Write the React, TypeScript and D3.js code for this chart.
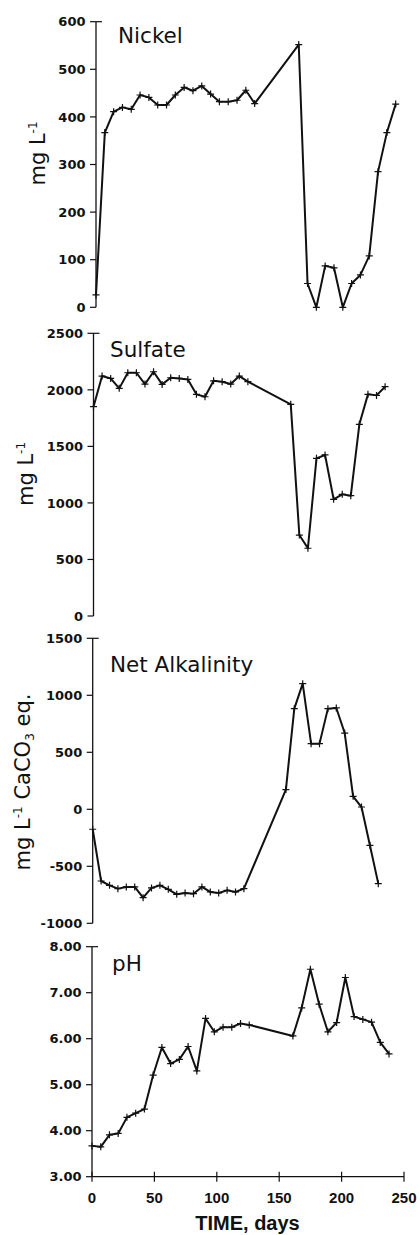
import * as d3 from "d3";

// sampling days (weekly, with a gap between day 126 and 161)
const DAYS = [0, 7, 14, 21, 28, 35, 42, 49, 56, 63, 70, 77, 84, 91, 98, 105, 112, 119, 126,
  161, 168, 175, 182, 189, 196, 203, 210, 217, 224, 231, 238];

const NICKEL = [26, 367, 411, 420, 416, 446, 441, 425, 425, 446, 462, 455, 465, 448, 432, 432, 435, 456, 428,
  552, 50, 0, 87, 83, 0, 50, 68, 108, 285, 367, 427];

const SULFATE = [1851, 2122, 2101, 2013, 2151, 2151, 2051, 2160, 2048, 2107, 2101, 2092, 1960, 1939, 2080, 2072, 2051, 2122, 2072,
  1872, 716, 599, 1394, 1424, 1032, 1076, 1064, 1695, 1960, 1951, 2028];

const ALKALINITY = [-175, -629, -667, -696, -681, -681, -775, -690, -667, -702, -746, -734, -740, -681, -725, -734, -711, -725, -696,
  173, 883, 1102, 576, 576, 883, 889, 669, 114, 20, -316, -652];

const PH = [3.67, 3.65, 3.91, 3.94, 4.29, 4.38, 4.47, 5.21, 5.81, 5.46, 5.55, 5.83, 5.3, 6.44, 6.15, 6.25, 6.25, 6.33, 6.3,
  6.06, 6.67, 7.51, 6.75, 6.15, 6.35, 7.33, 6.48, 6.42, 6.36, 5.92, 5.67];

const NICKEL_TICKS = [0, 100, 200, 300, 400, 500, 600];
const SULFATE_TICKS = [0, 500, 1000, 1500, 2000, 2500];
const ALK_TICKS = [-1000, -500, 0, 500, 1000, 1500];
const PH_TICKS = [3, 4, 5, 6, 7, 8];
const X_TICKS = [0, 50, 100, 150, 200, 250];

const YFONT = "'DejaVu Sans', sans-serif";
const intFmt = (v: number) => String(v); // plain hyphen minus, like the original
const phFmt = (v: number) => v.toFixed(2);

const panels = [
  {
    title: "Nickel", values: NICKEL, ticks: NICKEL_TICKS, fmt: intFmt,
    axisX: 96, xEnd: 410.8, yTop: 21.7, yBottom: 307.3,
    titleX: 118, titleY: 43,
  },
  {
    title: "Sulfate", values: SULFATE, ticks: SULFATE_TICKS, fmt: intFmt,
    axisX: 93.5, xEnd: 399.8, yTop: 333.3, yBottom: 616,
    titleX: 110, titleY: 357,
  },
  {
    title: "Net Alkalinity", values: ALKALINITY, ticks: ALK_TICKS, fmt: intFmt,
    axisX: 92.7, xEnd: 392.7, yTop: 638.3, yBottom: 923.3,
    titleX: 110, titleY: 672,
  },
  {
    title: "pH", values: PH, ticks: PH_TICKS, fmt: phFmt,
    axisX: 92, xEnd: 404, yTop: 946.7, yBottom: 1176.7,
    titleX: 112, titleY: 971,
  },
];

function Panel({ p, last }: { p: any; last: boolean }) {
  const x = d3.scaleLinear().domain([0, 250]).range([p.axisX, p.xEnd]);
  const y = d3.scaleLinear()
    .domain([p.ticks[0], p.ticks[p.ticks.length - 1]])
    .range([p.yBottom, p.yTop]);
  const pts: [number, number][] = DAYS.map((d, i) => [x(d), y(p.values[i])]);
  const line = d3.line();
  const top = p.ticks[p.ticks.length - 1];

  return (
    <g>
      {/* y axis */}
      <line x1={p.axisX} x2={p.axisX} y1={y(top)} y2={y(p.ticks[0])} stroke="#111" strokeWidth={1.3} />
      {p.ticks.map((t: number) => (
        <g key={t}>
          <line x1={p.axisX - 6} x2={p.axisX + (t === top ? 6 : 0)} y1={y(t)} y2={y(t)} stroke="#111" strokeWidth={1.2} />
          <text x={p.axisX - 10.5} y={y(t)} dy="0.36em" textAnchor="end"
            fontFamily={YFONT} fontWeight="bold" fontSize={13} fill="#111">
            {p.fmt(t)}
          </text>
        </g>
      ))}

      {/* x axis only on the bottom panel */}
      {last && (
        <g>
          <line x1={x(0)} x2={x(250)} y1={p.yBottom} y2={p.yBottom} stroke="#111" strokeWidth={1.3} />
          {X_TICKS.map((t) => (
            <g key={t}>
              <line x1={x(t)} x2={x(t)} y1={p.yBottom - 5} y2={p.yBottom + 5} stroke="#111" strokeWidth={1.2} />
              <text x={x(t)} y={1203} textAnchor="middle"
                fontFamily="'Liberation Sans', Arial, sans-serif" fontWeight="bold" fontSize={15} fill="#111">
                {t}
              </text>
            </g>
          ))}
        </g>
      )}

      <path d={line(pts) || ""} fill="none" stroke="#111" strokeWidth={2} strokeLinejoin="round" />
      {pts.map(([px, py], i) => (
        <path key={i} d={`M${px - 3.5},${py}H${px + 3.5}M${px},${py - 3.5}V${py + 3.5}`}
          stroke="#111" strokeWidth={1.2} />
      ))}

      <text x={p.titleX} y={p.titleY} fontFamily={YFONT} fontSize={21.5} fill="#111">{p.title}</text>
    </g>
  );
}

export default function App() {
  return (
    <svg width={420} height={1235} style={{ position: "absolute", left: 0, top: 0, background: "#fff" }}>
      {panels.map((p, i) => (
        <Panel key={p.title} p={p} last={i === panels.length - 1} />
      ))}

      {/* y-axis labels */}
      <g fontFamily={YFONT} fontSize={21} fill="#111" textAnchor="middle">
        <text transform="translate(45,153.5) rotate(-90)">
          mg L<tspan dy={-8} fontSize={12}>-1</tspan>
        </text>
        <text transform="translate(32.7,474) rotate(-90)">
          mg L<tspan dy={-8} fontSize={12}>-1</tspan>
        </text>
        <text transform="translate(30,782) rotate(-90)">
          mg L<tspan dy={-8} fontSize={12}>-1</tspan>
          <tspan dy={8}>{" CaCO"}</tspan>
          <tspan dy={4} fontSize={12}>3</tspan>
          <tspan dy={-4}>{" eq."}</tspan>
        </text>
      </g>

      <text x={247.5} y={1230} textAnchor="middle" fontFamily="'Liberation Sans', Arial, sans-serif"
        fontWeight="bold" fontSize={20} fill="#111">TIME, days</text>
    </svg>
  );
}
